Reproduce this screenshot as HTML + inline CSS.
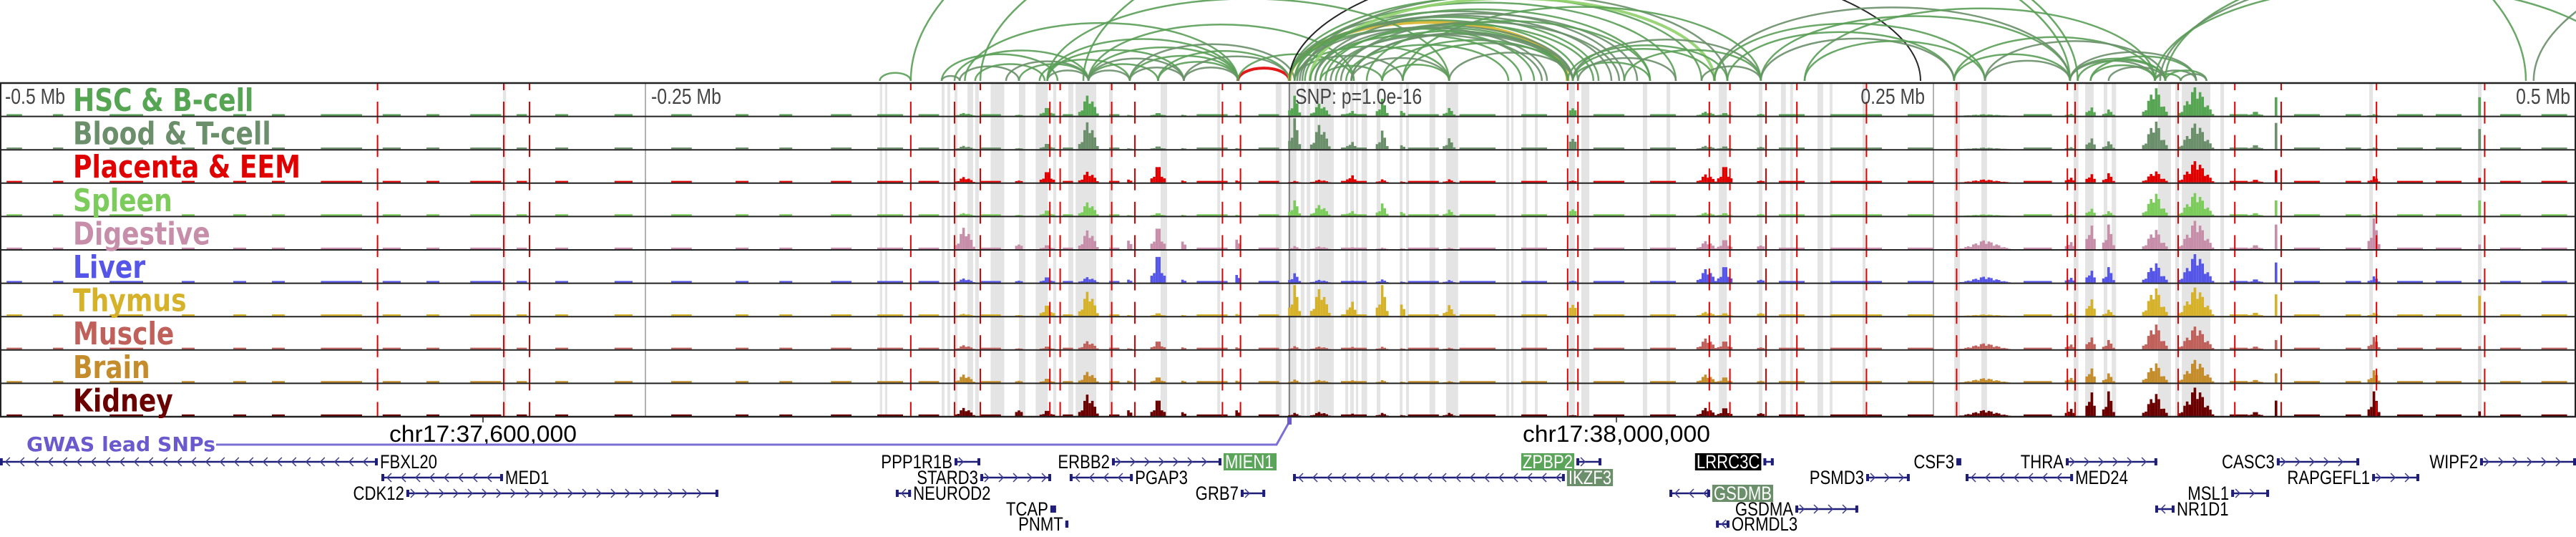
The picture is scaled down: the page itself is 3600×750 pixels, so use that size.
<!DOCTYPE html>
<html><head><meta charset="utf-8"><style>
html,body{margin:0;padding:0;background:#fff;}
svg{display:block;}
</style></head><body>
<svg id="chart" width="3600" height="750" viewBox="0 0 3600 750" xmlns="http://www.w3.org/2000/svg">
<g id="bands"></g>
<g id="arcs"></g>
<g id="tracks"></g>
<g id="reds"></g>
<g id="frame"></g>
<g id="labels"></g>
<g id="axis"></g>
<g id="genes"></g>
</svg>
<script>
// ---------------- DATA ----------------
const trackNames = ["HSC & B-cell","Blood & T-cell","Placenta & EEM","Spleen","Digestive","Liver","Thymus","Muscle","Brain","Kidney"];
const trackColors = ["#55a552","#6a8f6a","#e00000","#7ccc5c","#c78eaa","#5555e8","#d6b22a","#c0605a","#c48c2a","#6b0000"];
const hotspotKb = [-126,-105,-94,-78,-62,-51,-41,-20,2,12,24,36,44,62,110,162,169,183,270,303,311,318,336,352,375,383,421,462];
const hotspotWidth = [8,3,6,8,2,6,2,2,5,8,4,5,2,5,3,8,6,3,20,4,4,5,10,14,6,1,5,1];
const hsc      = [.10,.05,.30,.75,.04,.10,.05,.05,.65,.45,.20,.55,.25,.25,.40,.15,.10,.10,.05,.08,.35,.20,1.0,1.0,.15,.60,.05,.60];
const blood    = [.12,.05,.20,1.0,.04,.10,.05,.05,1.0,.90,.30,.60,.20,.35,.55,.12,.10,.12,.05,.08,.45,.25,1.0,.90,.15,.85,.05,.65];
const placenta = [.20,.10,.40,.40,.15,.60,.10,.10,.05,.10,.30,.10,.05,.10,.10,.30,.60,.10,.10,.20,.35,.30,.40,.75,.10,.40,.20,.15];
const spleen   = [.10,.05,.20,.50,.04,.10,.05,.05,.50,.40,.20,.40,.20,.20,.35,.12,.10,.10,.05,.08,.30,.15,.80,.80,.10,.50,.05,.50];
const digestive= [.80,.25,.15,.70,.45,.80,.40,.50,.10,.10,.08,.05,.05,.05,.05,.30,.35,.20,.30,.30,1.0,.80,.70,1.0,.15,.80,1.0,.15];
const liver    = [.15,.10,.20,.20,.15,1.0,.15,.40,.30,.10,.08,.10,.05,.08,.10,.50,.60,.15,.20,.20,.50,.50,.70,1.0,.12,.65,.20,.10];
const thymus   = [.08,.05,.40,.90,.05,.10,.05,.10,1.0,1.0,.60,1.0,.60,.35,.60,.15,.10,.15,.05,.10,.70,.20,1.0,1.0,.12,.70,.10,.65];
const muscle   = [.15,.05,.10,.30,.05,.30,.10,.10,.10,.10,.10,.08,.05,.05,.05,.40,.30,.10,.20,.20,.50,.30,.90,.80,.10,.30,.40,.10];
const brain    = [.30,.10,.15,.40,.10,.20,.10,.10,.10,.10,.10,.08,.05,.05,.05,.30,.20,.10,.15,.20,.60,.30,.70,.80,.10,.30,.40,.10];
const kidney   = [.30,.30,.20,.80,.30,.60,.20,.30,.10,.15,.10,.10,.05,.10,.05,.30,.30,.15,.20,.30,1.0,.80,.80,1.0,.15,.50,.80,.15];
const trackValues = [hsc,blood,placenta,spleen,digestive,liver,thymus,muscle,brain,kidney];
const bgStart = [-498,-480,-458,-430,-410,-395,-376,-352,-335,-318,-300,-285,-262,-240,-215,-198,-178,-160,-144,-120,-88,-70,-36,-12,20,46,66,90,118,140,190,210,240,285,365,390,410,430,445,470,486];
const bgEnd   = [-492,-476,-445,-425,-405,-390,-360,-345,-330,-306,-296,-280,-255,-232,-210,-193,-170,-150,-136,-112,-84,-66,-24,-4,30,58,80,100,130,150,200,230,250,296,372,400,416,440,455,478,496];
const bgLevel = 0.05;
const snpKb = [-354,-305,-295,-147,-130,-120,-93,-89,-69,-60,-26,-19,108,112,163,171,185,197,224,259,302,305,345,367,385,422,464];
const bandKb = [-305.3,-159,-157,-135,-132.8,-130,-125,-122,-116,-105,-98.5,-91.7,-85.8,-83,-70,-50,-28,-5.3,-0.6,4.4,6.7,9.7,11.4,21.7,23.6,25.8,28,33.9,42.8,45.3,54.4,60.8,84.2,86.1,90.6,95.3,108.6,113.3,137.2,146.4,166.7,182.2,190.8,194.4,205,209.7,222.5,258.1,268.6,304.4,308.9,316.1,319.2,337.2,343.9,346.4,361.4,419.2,461.4];
const bandW  = [1.2,0.9,0.9,1.1,1.1,1.1,2.2,1.4,5.3,2.5,4.7,1.2,1.9,8,1.4,2.5,1.1,2.2,3.3,1.4,1.4,1.4,5.8,1.1,1.4,0.9,2.2,1.4,1.1,1.1,2.2,4.7,1.1,0.9,1.4,1.1,2.2,3.1,1.7,1.4,3.1,1.4,1.9,1.1,2.2,1.1,1.1,2.2,2.2,1.9,3.3,1.4,1.7,5,1.4,11.1,1.4,1.4,1.4];
const arcStart = [-159,-135,-135,-130,-128,-122,-110,-105,-94,-97,-94,-78,-78,-78,-62,-51,-41,-126,-147,-78,-62,-20,-51,-41,-20,0,0,0,2,5,0,10,12,18,24,36,44,62,2,2,12,24,36,0,8,183,165,258,270,200,110,110,108,130,160,165,170,183,200,258,270,303,303,306,311,303,311,318,336,336,340,346,340,338,336,-120,-80,483,-94,24,44,2,4,6,10,14,20,30,0,3,8,16,22,110,112,-94,-78,-62];
const arcEnd   = [-147,-128,-90,-78,-105,-95,-78,-78,-78,-62,-41,-62,-51,-20,-41,-20,-20,-20,480,25,2,0,0,0,25,108,112,130,150,170,160,110,108,108,108,108,110,110,62,44,36,62,62,245,165,303,303,336,340,336,165,183,170,183,183,270,258,258,270,303,303,340,336,340,336,352,352,340,346,352,356,356,600,560,520,306,303,800,62,110,183,120,125,140,135,118,128,140,95,100,90,98,85,140,150,-20,-41,-20];
const arcColor = ["g","b","g","g","b","g","b","g","b","g","g","b","g","g","b","g","b","g","g","g","b","r","g","b","g","y","g","b","g","b","g","b","g","g","b","g","g","b","g","b","g","b","g","k","l","g","b","g","b","g","g","b","g","g","b","g","g","b","g","g","b","g","b","g","g","b","g","b","g","b","g","b","g","b","g","g","g","b","g","b","g","g","b","g","b","g","b","g","g","b","g","b","g","g","b","g","b","g"];
const geneNames  = ["FBXL20","MED1","CDK12","PPP1R1B","STARD3","NEUROD2","TCAP","PNMT","ERBB2","PGAP3","GRB7","IKZF3","ZPBP2","LRRC3C","GSDMB","GSDMA","ORMDL3","PSMD3","CSF3","THRA","MED24","CASC3","RAPGEFL1","MSL1","NR1D1","WIPF2"];
const geneStart  = [-500.6,-352.5,-342.8,-130,-120,-152.8,-92.8,-87,-68.9,-85.3,-18.9,1.4,111.4,184,147.5,196.4,165.6,223.9,258.9,301.4,262.5,383.3,420.3,365.6,336.1,462.2];
const geneEnd    = [-353.9,-305.3,-221.7,-120,-92.5,-146.9,-90.6,-85.8,-26.4,-60.8,-9.4,106.9,121.1,188,163.3,220.8,170.8,240.8,260.8,336.9,304.2,415.3,438.6,380.3,343.6,500];
const geneRow    = [0,1,2,0,1,2,3,4,0,1,2,1,0,0,2,3,4,1,0,0,1,0,1,2,3,0];
const geneStrand = ["-","-","+","+","+","-","+","+","+","-","+","-","+","+","-","+","-","+","+","+","-","+","+","+","-","+"];
const geneStyle  = ["p","p","p","p","p","p","p","p","p","p","p","g2","g","k","g2","p","p","p","p","p","p","p","p","p","p","p"];
const labelLeft  = [false,false,true,true,true,false,true,true,true,false,true,false,true,true,false,true,false,true,true,true,false,true,true,true,false,true];
const axisTicksKb = [-313.06,126.94,566.94];
const axisTickLabels = ["chr17:37,600,000","chr17:38,000,000","chr17:38,400,000"];
const mbKb = [-500,-250,0,250,500];
const mbLabels = ["-0.5 Mb","-0.25 Mb","SNP: p=1.0e-16","0.25 Mb","0.5 Mb"];

// ---------------- SCALES ----------------
const NS="http://www.w3.org/2000/svg";
const X0=1802, PXKB=3.6;
const xOf = kb => X0 + kb*PXKB;
const TOP=116, TH=46.6, NT=10;
const trackTop = i => TOP + i*TH;
const BOT = TOP + NT*TH;
function mk(tag, attrs, parent){const e=document.createElementNS(NS,tag);for(const k in attrs)e.setAttribute(k,attrs[k]);parent.appendChild(e);return e;}
const G = id => document.getElementById(id);
function squeeze(t,f){const w=t.getComputedTextLength();t.setAttribute('textLength',w*f);t.setAttribute('lengthAdjust','spacingAndGlyphs');return w*f;}

bandKb.forEach((b,i)=>{
  const r=mk('rect',{x:xOf(b),y:TOP,width:Math.max(bandW[i]*PXKB,3),height:BOT-TOP,fill:'#e4e4e4'},G('bands'));
  
  
});
mbKb.forEach((k,i)=>{
  if(i===0||i===4) return;
  const l=mk('line',{x1:xOf(k),x2:xOf(k),y1:TOP,y2:BOT,stroke:i===2?'#666':'#999','stroke-width':1.5},G('bands'));
  
  
});

const arcCols={g:'#5a9e56',b:'#6a8f6a',y:'#d6b22a',r:'#e00000',k:'#111',l:'#8fd16a'};
const arcWid={g:2.5,b:2.5,y:5,r:4,k:2,l:4};
const BASE=113;
arcStart.forEach((s,i)=>{
  const x1=xOf(s), x2=xOf(arcEnd[i]);
  const span=Math.abs(x2-x1);
  const h=0.375*Math.pow(span,0.904);
  const c=arcColor[i];
  const p=mk('path',{d:`M${x1},${BASE} A${span/2},${h} 0 0 1 ${x2},${BASE}`,fill:'none',stroke:arcCols[c],'stroke-width':arcWid[c],'stroke-opacity':0.9},G('arcs'));
  
  
});

const MAXH=43;
trackValues.forEach((vals,t)=>{
  const g=mk('g',{},G('tracks'));
  
  
  const bottom=trackTop(t+1)-1;
  bgStart.forEach((s,j)=>{
    const r=mk('rect',{x:xOf(s),y:bottom-MAXH*bgLevel,width:(bgEnd[j]-s)*PXKB,height:MAXH*bgLevel,fill:trackColors[t]},g);
    
    
  });
  hotspotKb.forEach((c,j)=>{
    const v=vals[j]; if(!v) return;
    const w=hotspotWidth[j];
    const n=Math.max(1,Math.round(w));
    for(let k=0;k<n;k++){
      const off=(k+0.5)-n/2;
      const f=n===1?1:Math.max(0.12,1-Math.abs(off)/(n/2+0.5));
      const jag=(k%3===1)?0.6:1;
      const hh=MAXH*v*Math.pow(f,1.2)*jag;
      const r=mk('rect',{x:xOf(c+off-0.5),y:bottom-hh,width:PXKB,height:hh,fill:trackColors[t]},g);
      
      
    }
  });
});

snpKb.forEach(k=>{
  for(let t=0;t<NT;t++){
    const tp=trackTop(t), bt=trackTop(t+1);
    const a=mk('line',{x1:xOf(k),x2:xOf(k),y1:tp,y2:tp+10,stroke:'#e00000','stroke-width':2},G('reds'));
    
    
    const b=mk('line',{x1:xOf(k),x2:xOf(k),y1:tp+26,y2:bt,stroke:'#e00000','stroke-width':2},G('reds'));
    
    
  }
});

for(let t=0;t<=NT;t++){
  const l=mk('line',{x1:0,x2:3600,y1:trackTop(t),y2:trackTop(t),stroke:'#222','stroke-width':t===0||t===NT?2.5:2},G('frame'));
  
  
}
mk('line',{x1:1,x2:1,y1:TOP,y2:BOT,stroke:'#222','stroke-width':2},G('frame'));
mk('line',{x1:3599,x2:3599,y1:TOP,y2:BOT,stroke:'#222','stroke-width':2},G('frame'));

trackNames.forEach((n,t)=>{
  const tx=mk('text',{x:102,y:trackTop(t)+39,fill:trackColors[t],'font-family':'"DejaVu Sans",sans-serif','font-weight':'bold','font-size':44},G('labels'));
  tx.textContent=n;
  
  
  squeeze(tx,0.82);
});
mbLabels.forEach((s,i)=>{
  let x=xOf(mbKb[i])+8, anchor='start';
  if(i===0) x=7;
  if(i===3){x=2690;anchor='end';}
  if(i===4){x=3592;anchor='end';}
  const tx=mk('text',{x:x,y:145,fill:'#444','font-family':'"Liberation Sans",sans-serif','font-size':31,'text-anchor':anchor},G('labels'));
  tx.textContent=s;
  
  
  squeeze(tx,0.8);
});

axisTicksKb.forEach((k,i)=>{
  const x=xOf(k);
  mk('line',{x1:x,x2:x,y1:BOT,y2:BOT+8,stroke:'#222','stroke-width':1.5},G('axis'));
  const tx=mk('text',{x:x,y:617,'text-anchor':'middle','font-family':'"Liberation Sans",sans-serif','font-size':32,fill:'#000',textLength:262,lengthAdjust:'spacingAndGlyphs'},G('axis'));
  tx.textContent=axisTickLabels[i];
  
  
});
const gw=mk('text',{x:37,y:630,fill:'#6a5acd','font-family':'"DejaVu Sans",sans-serif','font-weight':'bold','font-size':28,textLength:264,lengthAdjust:'spacingAndGlyphs'},G('axis'));
gw.textContent='GWAS lead SNPs';


mk('polyline',{points:`302,621 ${xOf(-5)},621 ${xOf(-0.5)},592`,fill:'none',stroke:'#7b6fd6','stroke-width':3},G('axis'));
mk('rect',{x:xOf(0)-3,y:583,width:6,height:10,fill:'#6a5acd'},G('axis'));

const rowY=[645,667,689,711,732];
geneNames.forEach((n,i)=>{
  const g=mk('g',{},G('genes'));
  
  
  const x1=xOf(geneStart[i]), x2=Math.min(3600,xOf(geneEnd[i])), y=rowY[geneRow[i]];
  mk('line',{x1:x1,x2:x2,y1:y,y2:y,stroke:'#1e1e78','stroke-width':2.5},g);
  mk('rect',{x:x1,y:y-5,width:4,height:10,fill:'#1e1e78'},g);
  mk('rect',{x:x2-4,y:y-5,width:4,height:10,fill:'#1e1e78'},g);
  const dir=geneStrand[i]==='+'?1:-1;
  for(let cx=x1+10;cx<x2-6;cx+=20){
    mk('path',{d:`M${cx-4*dir},${y-6} L${cx+2*dir},${y} L${cx-4*dir},${y+6}`,fill:'none',stroke:'#3a3a90','stroke-width':1.5},g);
  }
  const st=geneStyle[i];
  const lx=labelLeft[i]?x1-3:x2+3;
  const tx=mk('text',{x:0,y:y+9,fill:st==='p'?'#000':'#fff','font-family':'"Liberation Sans",sans-serif','font-size':27},g);
  tx.textContent=n;
  
  
  const tw=squeeze(tx,0.82);
  const tx0=labelLeft[i]?lx-tw-(st==='p'?0:2):lx+(st==='p'?0:2);
  tx.setAttribute('x',tx0);
  if(st!=='p'){
    const r=mk('rect',{x:tx0-2,y:y-12,width:tw+4,height:24,fill:st==='g'?'#5aa55a':st==='g2'?'#6a8f6a':'#000'},g);
    g.insertBefore(r,tx);
  }
});
const mg=mk('g',{},G('genes'));


mk('rect',{x:1710,y:633,width:74,height:24,fill:'#5aa55a'},mg);
const mt=mk('text',{x:1712,y:654,fill:'#fff','font-family':'"Liberation Sans",sans-serif','font-size':27},mg);
mt.textContent='MIEN1';


squeeze(mt,0.82);
</script>
</body></html>
